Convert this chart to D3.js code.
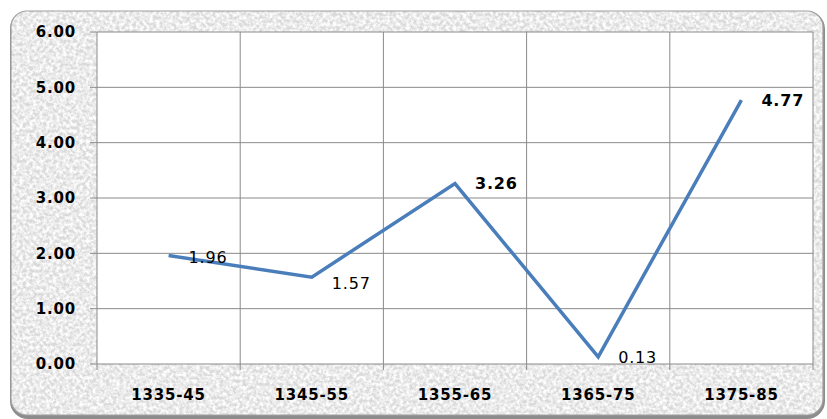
<!DOCTYPE html>
<html>
<head>
<meta charset="utf-8">
<script src="https://cdn.jsdelivr.net/npm/d3@7"></script>
<style>
  body { margin: 0; background: #fff; }
  text { font-family: "DejaVu Sans", Verdana, sans-serif; fill: #000; }
</style>
</head>
<body>
<script>
var categories = ["1335-45", "1345-55", "1355-65", "1365-75", "1375-85"];
var values = [1.96, 1.57, 3.26, 0.13, 4.77];
var labelBold = [false, false, true, false, true];
var yTicks = [0, 1, 2, 3, 4, 5, 6];

var w = 827, h = 419;
var margin = {top: 32, right: 14, bottom: 55, left: 97};
var innerW = w - margin.left - margin.right,
    innerH = h - margin.top - margin.bottom;

var svg = d3.select("body").append("svg")
    .attr("width", w)
    .attr("height", h);

// textured grey frame
var defs = svg.append("defs");
var f = defs.append("filter").attr("id", "grain")
    .attr("x", 0).attr("y", 0).attr("width", 1).attr("height", 1);
f.append("feTurbulence")
    .attr("type", "fractalNoise")
    .attr("baseFrequency", 0.3)
    .attr("numOctaves", 3)
    .attr("seed", 7)
    .attr("result", "noise");
// white blotches, alpha from the noise
f.append("feColorMatrix")
    .attr("in", "noise")
    .attr("type", "matrix")
    .attr("values", "0 0 0 0 1  0 0 0 0 1  0 0 0 0 1  2.4 0 0 0 -0.75")
    .attr("result", "spots");
f.append("feComposite")
    .attr("in", "spots")
    .attr("in2", "SourceGraphic")
    .attr("operator", "atop");

svg.append("rect")
    .attr("x", 12).attr("y", 13)
    .attr("width", 811).attr("height", 404)
    .attr("rx", 16)
    .style("fill", "none")
    .style("stroke", "#8c8c8c")
    .style("stroke-width", 4);
svg.append("rect")
    .attr("x", 11).attr("y", 11)
    .attr("width", 812).attr("height", 404)
    .attr("rx", 16)
    .style("fill", "#d9d9d9")
    .style("filter", "url(#grain)");
svg.append("rect")
    .attr("x", 11).attr("y", 11)
    .attr("width", 812).attr("height", 404)
    .attr("rx", 16)
    .style("fill", "none")
    .style("stroke", "#a0a0a0")
    .style("stroke-width", 1.2);

var g = svg.append("g")
    .attr("transform", "translate(" + [margin.left, margin.top] + ")");

var x = d3.scaleBand()
    .domain(categories)
    .range([0, innerW]);

var y = d3.scaleLinear()
    .domain([0, 6])
    .range([innerH, 0]);

g.append("rect")
    .attr("width", innerW)
    .attr("height", innerH)
    .style("fill", "#fff");

// horizontal grid
g.selectAll(".hgrid")
    .data(yTicks)
    .enter().append("line")
    .attr("x1", -7)
    .attr("x2", innerW)
    .attr("y1", function(d) { return y(d); })
    .attr("y2", function(d) { return y(d); })
    .style("stroke", "#8a8a8a")
    .style("stroke-width", 1);

// vertical grid at category boundaries
var bounds = categories.map(function(c) { return x(c) + x.bandwidth(); });
g.selectAll(".vgrid")
    .data(bounds)
    .enter().append("line")
    .attr("x1", function(d) { return d; })
    .attr("x2", function(d) { return d; })
    .attr("y1", 0)
    .attr("y2", innerH + 6)
    .style("stroke", "#8a8a8a")
    .style("stroke-width", 1);

g.append("line")
    .attr("x1", 0).attr("x2", 0)
    .attr("y1", 0).attr("y2", innerH + 6)
    .style("stroke", "#8a8a8a");

// y labels
g.selectAll(".ylab")
    .data(yTicks)
    .enter().append("text")
    .attr("x", -21)
    .attr("y", function(d) { return y(d); })
    .attr("dy", "0.36em")
    .attr("text-anchor", "end")
    .style("font-size", "15px")
    .style("font-weight", "bold")
    .style("letter-spacing", "0.8px")
    .text(function(d) { return d.toFixed(2); });

// x labels
g.selectAll(".xlab")
    .data(categories)
    .enter().append("text")
    .attr("x", function(d) { return x(d) + x.bandwidth() / 2; })
    .attr("y", innerH + 36)
    .attr("text-anchor", "middle")
    .style("font-size", "15px")
    .style("font-weight", "bold")
    .style("letter-spacing", "0.8px")
    .text(function(d) { return d; });

var line = d3.line()
    .x(function(d, i) { return x(categories[i]) + x.bandwidth() / 2; })
    .y(function(d) { return y(d); });

g.append("path")
    .datum(values)
    .attr("d", line)
    .style("fill", "none")
    .style("stroke", "#4a7ebb")
    .style("stroke-width", 3.5)
    .style("stroke-linejoin", "miter");

// data labels
g.selectAll(".dlab")
    .data(values)
    .enter().append("text")
    .attr("x", function(d, i) { return x(categories[i]) + x.bandwidth() / 2 + 20; })
    .attr("y", function(d) { return y(d); })
    .attr("dy", function(d, i) { return i == 1 ? "0.72em" : (i == 0 ? "0.45em" : "0.36em"); })
    .style("font-size", "16px")
    .style("font-weight", function(d, i) { return labelBold[i] ? "bold" : "normal"; })
    .style("letter-spacing", "0.8px")
    .text(function(d) { return d.toFixed(2); });
</script>
</body>
</html>
